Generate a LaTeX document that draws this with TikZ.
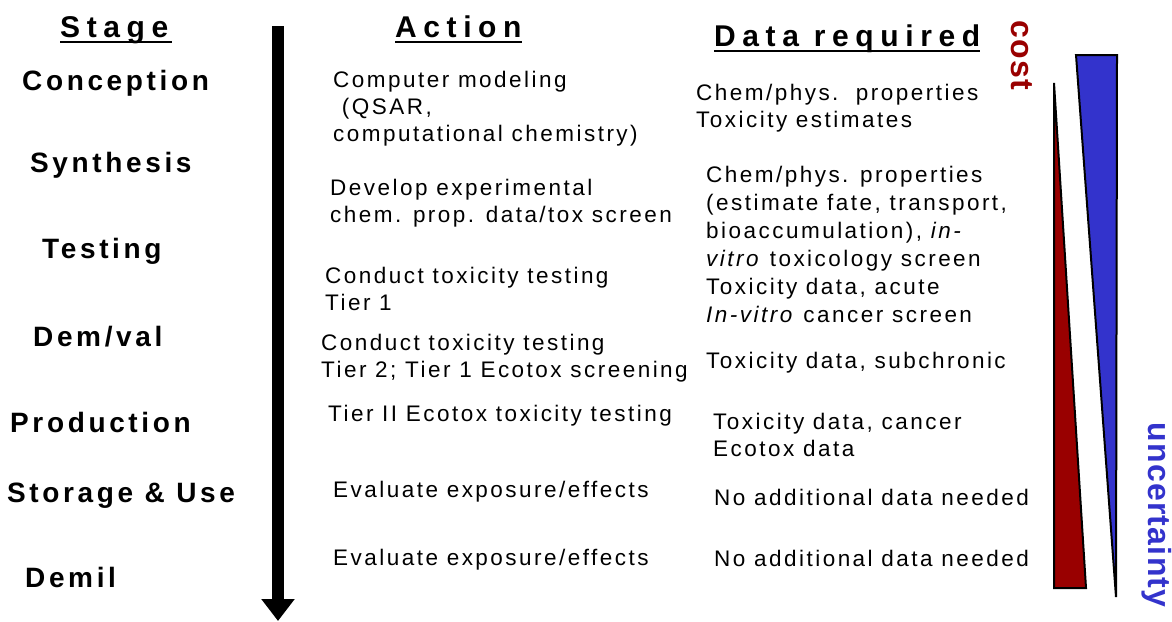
\documentclass[tikz,border=0pt]{standalone}
\usepackage{fontspec}
\setmainfont{Liberation Sans}
\newfontfamily\bodyf[LetterSpace=11]{Liberation Sans}
\newfontfamily\headf[LetterSpace=22]{Liberation Sans}
\newfontfamily\stagef[LetterSpace=13]{Liberation Sans}
\newfontfamily\sidef[LetterSpace=4]{Liberation Sans}
\usetikzlibrary{arrows.meta}
\definecolor{costred}{RGB}{153,0,0}
\definecolor{uncblue}{RGB}{51,51,204}
\tikzset{
  body/.style={font=\bodyf\fontsize{22.5}{27}\selectfont, align=left, inner sep=0pt, anchor=base west},
  stagelbl/.style={font=\stagef\bfseries\fontsize{28}{32}\selectfont, inner sep=0pt, anchor=base west},
  head/.style={font=\headf\bfseries\fontsize{30}{34}\selectfont, inner sep=0pt, anchor=base west, text depth=5pt},
  uline/.style={line width=2pt},
  wedge/.style={draw=black, line width=2pt, line join=miter},
  side/.style={font=\sidef\bfseries\fontsize{32}{36}\selectfont, inner sep=0pt, rotate=-90}
}
\begin{document}
\begin{tikzpicture}[x=1pt,y=-1pt]
\useasboundingbox (0,0) rectangle (1172,621);
% headers
\node[head] (hstage) at (60,37) {Stage};
\node[head] (haction) at (395,37) {Action};
\node[head] (hdata) at (714,46) {Data required};
\draw[uline] (hstage.south west) -- ([xshift=4pt]hstage.south east);
\draw[uline] (haction.south west) -- (haction.south east);
\draw[uline] (hdata.south west) -- (hdata.south east);
% stages
\node[stagelbl] (s1) at (22,90) {Conception};
\node[stagelbl] (s2) at (30,172) {Synthesis};
\node[stagelbl] (s3) at (42,258) {Testing};
\node[stagelbl] (s4) at (33,346) {Dem/val};
\node[stagelbl] (s5) at (10,432) {Production};
\node[stagelbl] (s6) at (7,502) {Storage \& Use};
\node[stagelbl] (s7) at (25,587) {Demil};
% arrow
\coordinate (atop) at (278,26);
\coordinate (abot) at (278,621);
\draw[line width=12pt, -{Triangle[width=32pt,length=22pt]}] (atop) -- (abot);
% actions (anchored at the baseline of the last line)
\node[body] (a1) at (333,141) {Computer modeling\\\ (QSAR,\\computational chemistry)};
\node[body] (a2) at (330,222) {Develop experimental\\chem. prop. data/tox screen};
\node[body] (a3) at (325,310) {Conduct toxicity testing\\Tier 1};
\node[body] (a4) at (321,377) {Conduct toxicity testing\\Tier 2; Tier 1 Ecotox screening};
\node[body] (a5) at (328,421) {Tier II Ecotox toxicity testing};
\node[body] (a6) at (333,497) {Evaluate exposure/effects};
\node[body] (a7) at (333,565) {Evaluate exposure/effects};
% data
\node[body] (d1) at (696,127) {Chem/phys.\ \ properties\\Toxicity estimates};
\node[body, font=\bodyf\fontsize{22.5}{28}\selectfont] (d2) at (706,322) {Chem/phys. properties\\(estimate fate, transport,\\bioaccumulation), \textit{in-}\\\textit{vitro} toxicology screen\\Toxicity data, acute\\\textit{In-vitro} cancer screen};
\node[body] (d3) at (706,368) {Toxicity data, subchronic};
\node[body] (d4) at (713,456) {Toxicity data, cancer\\Ecotox data};
\node[body] (d5) at (714,505) {No additional data needed};
\node[body] (d6) at (714,566) {No additional data needed};
% wedges
\filldraw[wedge, fill=costred] (1054,83) -- (1054,588) -- (1086,588) -- cycle;
\filldraw[wedge, fill=uncblue] (1076,55) -- (1117,55) -- (1116,597) -- cycle;
\node[side, text=costred] (cost) at (1022,55) {cost};
\node[side, text=uncblue] (unc) at (1157,515) {uncertainty};
\end{tikzpicture}
\end{document}
